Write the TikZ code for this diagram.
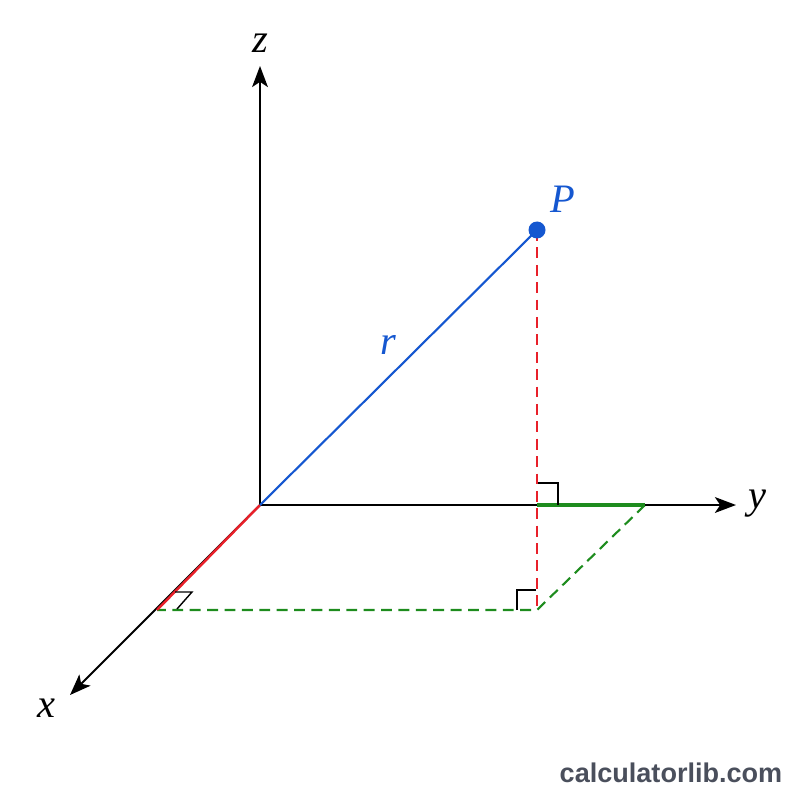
\documentclass[tikz,border=0pt]{standalone}
\usepackage{fontspec}
\setmainfont{Liberation Serif}
\newfontfamily\wmfont{Liberation Sans}
\usetikzlibrary{arrows.meta}
\definecolor{pblue}{HTML}{1557D0}
\definecolor{pred}{HTML}{E8202A}
\definecolor{pgreen}{HTML}{1E8C1E}
\definecolor{wmgray}{HTML}{4A4F5C}
\tikzset{
  axis/.style={line width=1.1pt, -{Stealth[length=12pt,width=9pt,inset=3pt]}},
  lbl/.style={font=\fontsize{23}{25}\selectfont\itshape, inner sep=0pt},
  dashred/.style={pred, line width=1.2pt, dash pattern=on 6.2pt off 3.7pt},
  dashgreen/.style={pgreen, line width=1.2pt, dash pattern=on 6.2pt off 3.7pt},
  rmark/.style={black, line width=0.8pt},
}
\begin{document}
\begin{tikzpicture}[x=0.02cm, y=-0.02cm]
\useasboundingbox (0,0) rectangle (800,800);
\coordinate (O) at (260,505);
\coordinate (zend) at (260,66);
\coordinate (yend) at (736,505);
\coordinate (xend) at (70,695);
\coordinate (Pp) at (537,230);
\coordinate (Py) at (537,505);
\coordinate (Yg) at (645,505);
\coordinate (Q) at (537,610);
\coordinate (Xr) at (157,610);
% projections
\draw[dashred] (Pp) -- (Q);
\draw[dashgreen] (Yg) -- (Q) -- (Xr);
% axes
\draw[axis] (O) -- (zend);
\draw[axis] (O) -- (yend);
\draw[axis] (O) -- (xend);
\draw[pgreen, line width=2.2pt] (Py) -- (Yg);
\draw[pred, line width=1.4pt] (O) -- (Xr);
% right angle marks
\draw[rmark] (538,483) -- (558,483) -- (558,505);
\draw[rmark] (517,610) -- (517,590) -- (536,590);
\draw[rmark] (175,592) -- (192,592) -- (177,609);
% vector
\draw[pblue, line width=1.2pt] (O) -- (Pp);
\fill[pblue] (Pp) circle (8.5);
% labels
\node[lbl] (zl) at (260,43) {z};
\node[lbl] (yl) at (757,504) {y};
\node[lbl] (xl) at (46,708) {x};
\node[lbl, pblue] (Pl) at (563,199) {P};
\node[lbl, pblue] (rl) at (388,345) {r};
\node[font=\wmfont\bfseries\fontsize{15.4}{17}\selectfont, text=wmgray, inner sep=0pt] (wm) at (671,773) {calculatorlib.com};
\end{tikzpicture}
\end{document}
